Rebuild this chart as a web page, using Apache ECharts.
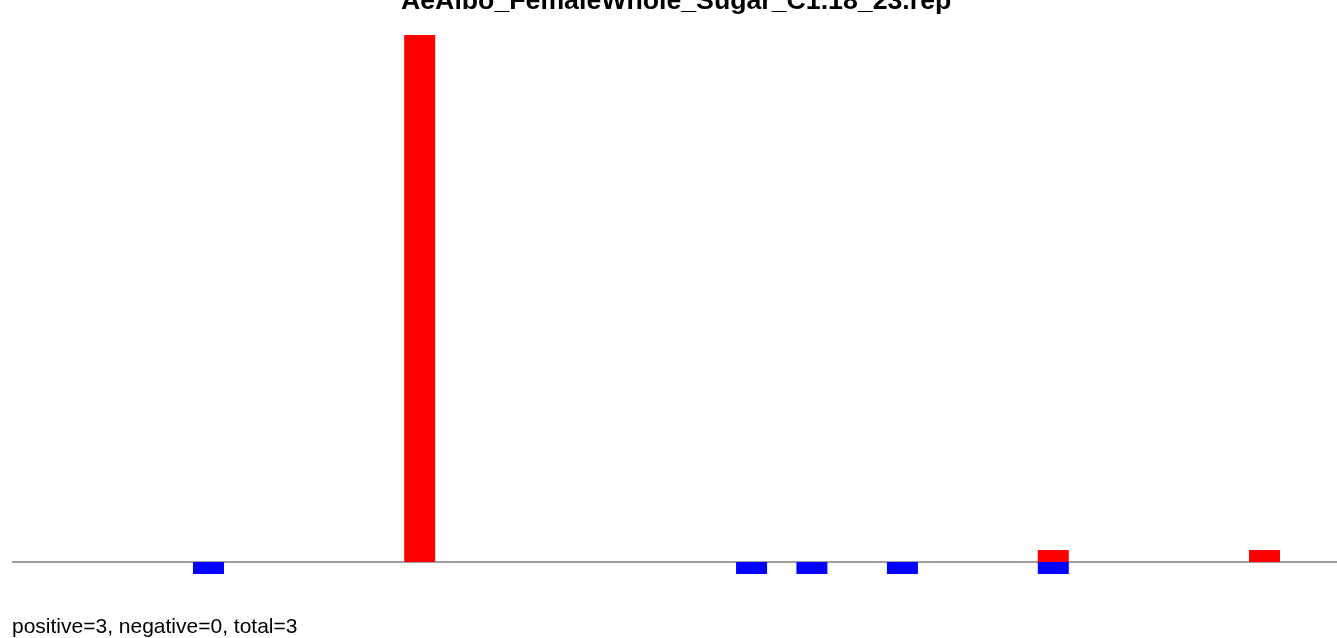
<!DOCTYPE html>
<html>
<head>
<meta charset="utf-8">
<script src="https://cdn.jsdelivr.net/npm/echarts@6/dist/echarts.min.js"></script>
<style>html,body{margin:0;padding:0;background:#fff;}#c{width:1337px;height:638px;}</style>
</head>
<body>
<div id="c"></div>
<script>
const titleText = "AeAlbo_FemaleWhole_Sugar_C1.18_23.rep";
const footerText = "positive=3, negative=0, total=3";
const categories = ["1","2","3","4","5","6","7","8","9","10","11","12","13","14","15","16","17","18","19","20","21","22","23","24","25","26","27","28","29","30","31","32","33","34","35","36","37","38","39","40","41","42","43","44"];
const positiveValues = [0,0,0,0,0,0,0,0,0,0,0,0,0,44,0,0,0,0,0,0,0,0,0,0,0,0,0,0,0,0,0,0,0,0,1,0,0,0,0,0,0,1,0,0];
const negativeValues = [0,0,0,0,0,0,-1,0,0,0,0,0,0,0,0,0,0,0,0,0,0,0,0,0,-1,0,-1,0,0,-1,0,0,0,0,-1,0,0,0,0,0,0,0,0,0];

const chart = echarts.init(document.getElementById('c'), null, {renderer: 'canvas'});
chart.setOption({
  animation: false,
  backgroundColor: '#ffffff',
  title: {
    text: titleText,
    left: 396,
    top: -17,
    textStyle: {fontFamily: 'Liberation Sans, Arial, sans-serif', fontWeight: 'bold', fontSize: 26.7, color: '#000'}
  },
  grid: {left: 12.4, right: -2.9, top: 35, bottom: 64, outerBoundsMode: 'none'},
  xAxis: {
    type: 'category',
    data: categories,
    boundaryGap: true,
    axisLine: {show: true, onZero: true, lineStyle: {color: '#808080', width: 1.5}},
    axisTick: {show: false},
    axisLabel: {show: false},
    splitLine: {show: false}
  },
  yAxis: {
    type: 'value',
    min: -1,
    max: 44,
    show: false,
    splitLine: {show: false}
  },
  series: [
    {type: 'bar', name: 'positive', stack: 's', data: positiveValues, barWidth: 31, itemStyle: {color: '#ff0000'}},
    {type: 'bar', name: 'negative', stack: 's', data: negativeValues, barWidth: 31, itemStyle: {color: '#0000ff'}}
  ],
  graphic: [
    {type: 'text', left: 12, top: 617, style: {text: footerText, fontFamily: 'Liberation Sans, Arial, sans-serif', fontSize: 21, fill: '#000'}}
  ]
});
</script>
</body>
</html>
